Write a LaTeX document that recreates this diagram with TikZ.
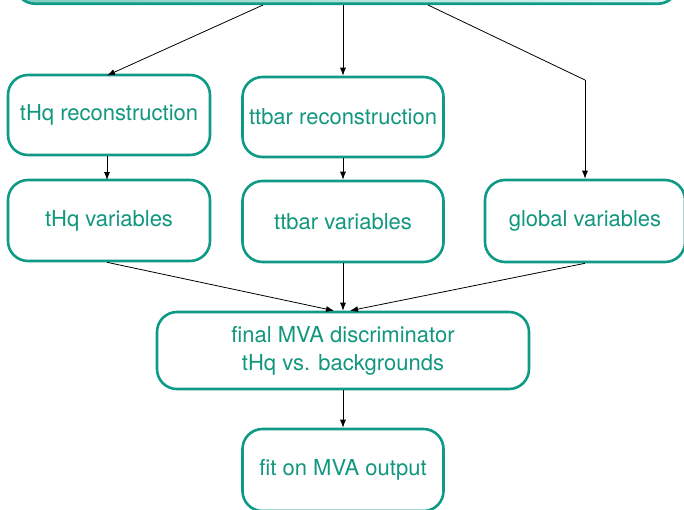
\documentclass[tikz,border=0pt]{standalone}
\usepackage{fontspec}
\setmainfont{TeX Gyre Heros}
\usetikzlibrary{arrows.meta,calc}
\definecolor{teal1}{HTML}{0E9A86}
\definecolor{tealtext}{HTML}{12977F}
\definecolor{shadeL}{HTML}{7ECDBF}
\definecolor{shadeR}{HTML}{E2F6F2}
\begin{document}
\begin{tikzpicture}[x=1pt,y=-1pt,
  stage/.style={draw=teal1, line width=2.6pt, rounded corners=20pt,
    fill=white, text=tealtext, align=center,
    font=\fontsize{22}{28}\selectfont},
  flow/.style={-{Latex[length=8pt,width=6pt]}, line width=0.8pt, black}]
\clip (0,0) rectangle (684,509);
% input box at the top, only its lower part is visible
\node[stage, left color=shadeL, right color=shadeR, minimum width=663pt,
  minimum height=90pt, anchor=south] (top) at (346.5,5) {};
% reconstruction stage
\node[stage, minimum width=202pt, minimum height=80pt] (threco) at (109,115) {tHq reconstruction};
\node[stage, minimum width=201pt, minimum height=80pt] (ttreco) at (343,117) {ttbar reconstruction};
% variables
\node[stage, minimum width=202pt, minimum height=81pt] (thvar) at (109,220.5) {tHq variables};
\node[stage, minimum width=201pt, minimum height=81pt] (ttvar) at (343,221.5) {ttbar variables};
\node[stage, minimum width=200pt, minimum height=82pt] (glvar) at (585,221) {global variables};
% discriminator and fit
\node[stage, minimum width=372pt, minimum height=77pt] (mva) at (343,350.5) {final MVA discriminator\\tHq vs. backgrounds};
\node[stage, minimum width=201pt, minimum height=82pt] (fit) at (343,470) {fit on MVA output};
% connectors
\coordinate (bend) at (585,80);
\draw[flow] ($(top.south)+(-83.5,0)$) -- (107,75.5) coordinate (threcoin);
\draw[flow] (top.south -| ttreco.north) -- (ttreco.north);
\draw[line width=0.8pt] ($(top.south)+(81.5,0)$) -- (bend);
\draw[flow] (bend) -- (glvar.north);
\draw[flow] (threco.south -| 107,0) -- (107,180);
\draw[flow] (ttreco.south) -- (ttvar.north);
\draw[flow] (thvar.south -| 107,0) -- ($(mva.north)+(-9,0)$);
\draw[flow] (ttvar.south) -- (mva.north);
\draw[flow] (glvar.south) -- ($(mva.north)+(7,0)$);
\draw[flow] (mva.south) -- (fit.north);
\end{tikzpicture}
\end{document}
